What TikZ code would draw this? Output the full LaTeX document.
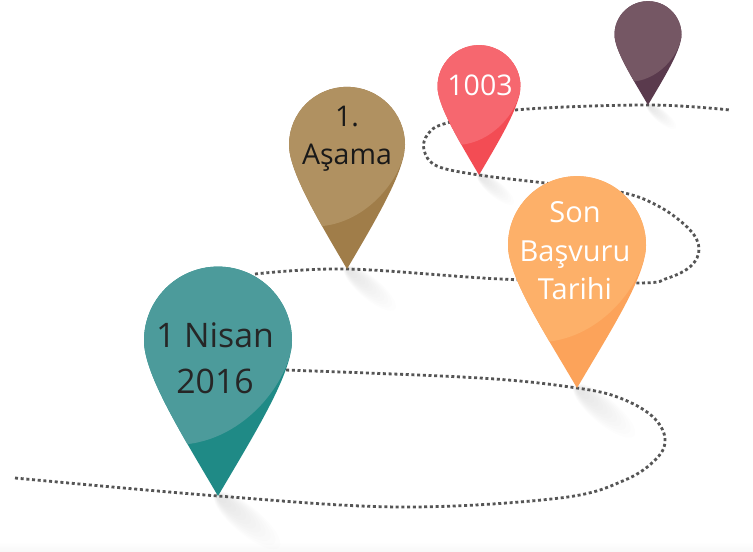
\documentclass[tikz,border=0pt]{standalone}
\usepackage{fontspec}
\setmainfont{Open Sans}
\definecolor{trailc}{HTML}{555555}
\definecolor{tealL}{HTML}{4C9B9B}
\definecolor{tealD}{HTML}{1F8A86}
\definecolor{tanL}{HTML}{B09161}
\definecolor{tanD}{HTML}{A07D49}
\definecolor{redL}{HTML}{F6676F}
\definecolor{redD}{HTML}{F34C54}
\definecolor{plumL}{HTML}{755764}
\definecolor{plumD}{HTML}{5A3A4D}
\definecolor{orgL}{HTML}{FDB069}
\definecolor{orgD}{HTML}{FCA35A}
\tikzset{
  trail/.style={draw=trailc,line width=2.8pt,dash pattern=on 3pt off 2.7pt},
  pintext/.style={align=center,inner sep=0pt}
}
% #1 tip coordinate, #2 radius, #3 tip distance, #4 light, #5 dark
\newcommand{\mypin}[5]{%
  \begin{scope}[shift={(#1)},x=1pt,y=1pt,scale=#2]
    \begin{scope}[shift={(0,#3)}]
      \def\pinpath{(0,-#3) .. controls (.5,-#3+.85) and (1,-.45) .. (1,0) arc[start angle=0,end angle=180,radius=1] .. controls (-1,-.45) and (-.5,-#3+.85) .. (0,-#3) -- cycle}
      \fill[#5] \pinpath;
      \begin{scope}
        \clip \pinpath;
        \fill[#4] (1.05,0) -- (1,0) .. controls (1,-.45) and (.45,-1.3) .. (-.42,-1.4) -- (-1.5,-1.4) -- (-1.5,1.5) -- (1.05,1.5) -- cycle;
      \end{scope}
    \end{scope}
  \end{scope}}
% #1 tip coordinate, #2 radius
\newcommand{\myshadow}[2]{%
  \begin{scope}[shift={(#1)},x=1pt,y=1pt,scale=#2]
    \foreach \k in {1,...,12}{
      \fill[black,opacity=.009,rotate=-40] (0.04*\k+0.03,0) ellipse[x radius=0.045*\k+0.03,y radius=0.013*\k+0.03];
    }
  \end{scope}}
\begin{document}
\begin{tikzpicture}[x=1pt,y=-1pt]
\useasboundingbox (0,0) rectangle (753,552);
\fill[white] (0,0) rectangle (753,552);
\shade[top color=white,bottom color=black!3] (0,542) rectangle (753,552);
\coordinate (tipTeal) at (218,496);
\coordinate (tipTan) at (347,269);
\coordinate (tipRed) at (479,175);
\coordinate (tipPlum) at (648,105);
\coordinate (tipOrg) at (577,388);
\coordinate (trailStart) at (15,478);
\coordinate (trailEnd) at (730,110);
\myshadow{tipTeal}{74}
\myshadow{tipTan}{58}
\myshadow{tipRed}{41.5}
\myshadow{tipPlum}{33.5}
\myshadow{tipOrg}{69}
\draw[trail] plot[smooth,tension=.6] coordinates {(trailStart) (tipTeal) (400,507) (560,498) (625,480) (657,458) (665,438) (652,416) (620,398) (tipOrg) (480,378) (285,370)};
\draw[trail] plot[smooth,tension=.6] coordinates {(255,274) (tipTan) (500,279) (637,283) (668,278) (691,266) (699,249) (690,230) (660,207) (620,192) (545,183) (tipRed) (437,166) (424,150) (428,134) (447,123) (515,110) (tipPlum) (trailEnd)};
\mypin{tipPlum}{33.5}{2.1}{plumL}{plumD}
\mypin{tipRed}{41.5}{2.13}{redL}{redD}
\mypin{tipTan}{58}{2.14}{tanL}{tanD}
\mypin{tipOrg}{69}{2.07}{orgL}{orgD}
\mypin{tipTeal}{74}{2.1}{tealL}{tealD}
\node[pintext,text=black!85,font=\fontsize{33.8}{46}\selectfont] (lblTeal) at (215,358) {1 Nisan\\2016};
\node[pintext,text=black!90,font=\fontsize{28.5}{38}\selectfont] (lblTan) at (347,139) {1.\\Aşama};
\node[pintext,text=white,font=\fontsize{28.5}{30}\selectfont] (lblRed) at (480,85) {1003};
\node[pintext,text=white,font=\fontsize{29}{38.5}\selectfont] (lblOrg) at (575,251) {Son\\Başvuru\\Tarihi};
\end{tikzpicture}
\end{document}
